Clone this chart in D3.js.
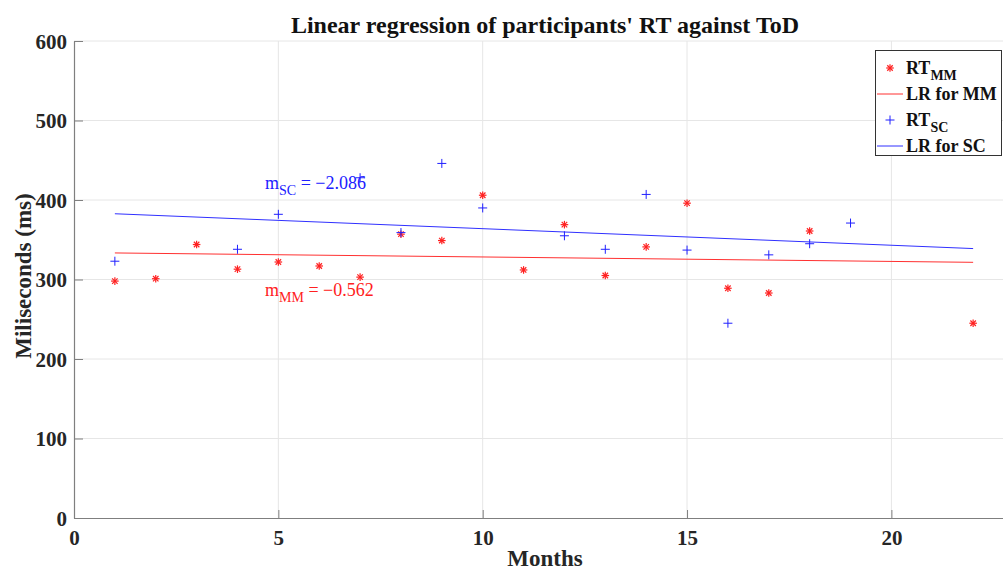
<!DOCTYPE html>
<html><head><meta charset="utf-8">
<script src="https://cdn.jsdelivr.net/npm/d3@7"></script>
<style>
body{margin:0;background:#fff;}
svg{display:block;font-family:"Liberation Serif","Times New Roman",serif;}
</style></head>
<body>
<svg id="c" width="1003" height="571"></svg>
<script>
const monthsMM = [1,2,3,4,5,6,7,8,9,10,11,12,13,14,15,16,17,18,22];
const rtMM =     [298,301,344,313,322,317,303,357,349,406,312,369,305,341,396,289,283,361,245];
const monthsSC = [1,4,5,7,8,9,10,12,13,14,15,16,17,18,19];
const rtSC =     [323,338,382,428,359,446,390,355,338,407,337,245,331,345,371];
const lrMM = [[1,333.4],[22,321.6]];
const lrSC = [[1,382.7],[22,338.9]];
const slopeMM = "−0.562";
const slopeSC = "−2.086";
const xTicks = [0,5,10,15,20];
const yTicks = [0,100,200,300,400,500,600];

const svg = d3.select("#c");
const x = d3.scaleLinear().domain([0,23]).range([74,1014]);
const y = d3.scaleLinear().domain([0,600]).range([518,41]);

// grid
svg.append("g").selectAll("line").data(xTicks.slice(1)).join("line")
  .attr("x1",d=>x(d)).attr("x2",d=>x(d)).attr("y1",41).attr("y2",518)
  .attr("stroke","#e6e6e6").attr("stroke-width",1);
svg.append("g").selectAll("line").data(yTicks.slice(1)).join("line")
  .attr("x1",74).attr("x2",1003).attr("y1",d=>y(d)).attr("y2",d=>y(d))
  .attr("stroke","#e6e6e6").attr("stroke-width",1);

// axes
const xAxis = d3.axisBottom(x).tickValues(xTicks).tickSizeInner(-8).tickSizeOuter(0).tickPadding(12);
const yAxis = d3.axisLeft(y).tickValues(yTicks).tickSizeInner(-9).tickSizeOuter(0).tickPadding(7);
const gx = svg.append("g").attr("transform","translate(0,518)").call(xAxis);
const gy = svg.append("g").attr("transform","translate(74,0)").call(yAxis);
[gx,gy].forEach(g=>{
  g.select(".domain").attr("stroke","#7f7f7f").attr("stroke-width",1.2);
  g.selectAll(".tick line").attr("stroke","#7f7f7f");
  g.selectAll("text").attr("fill","#262626").attr("font-family","Liberation Serif")
    .attr("font-weight","bold").attr("font-size",21);
});
gy.selectAll("text").attr("dy","0.35em");

// regression lines
const line = d3.line().x(d=>x(d[0])).y(d=>y(d[1]));
svg.append("path").attr("d",line(lrMM)).attr("stroke","#ff3030").attr("fill","none").attr("stroke-width",1);
svg.append("path").attr("d",line(lrSC)).attr("stroke","#3030ff").attr("fill","none").attr("stroke-width",1);

// markers
function star(g, cx, cy, col){
  const r=3.8;
  const s = g.append("g").attr("stroke",col).attr("stroke-width",1.2);
  s.append("line").attr("x1",cx-r).attr("x2",cx+r).attr("y1",cy).attr("y2",cy);
  s.append("line").attr("x1",cx).attr("x2",cx).attr("y1",cy-r).attr("y2",cy+r);
  const q=r*0.72;
  s.append("line").attr("x1",cx-q).attr("x2",cx+q).attr("y1",cy-q).attr("y2",cy+q);
  s.append("line").attr("x1",cx-q).attr("x2",cx+q).attr("y1",cy+q).attr("y2",cy-q);
}
function plus(g, cx, cy, col){
  const r=4.5;
  const s = g.append("g").attr("stroke",col).attr("stroke-width",1);
  s.append("line").attr("x1",cx-r).attr("x2",cx+r).attr("y1",cy).attr("y2",cy);
  s.append("line").attr("x1",cx).attr("x2",cx).attr("y1",cy-r).attr("y2",cy+r);
}
const gm = svg.append("g");
monthsMM.forEach((m,i)=>star(gm, x(m), y(rtMM[i]), "#ff2020"));
monthsSC.forEach((m,i)=>plus(gm, x(m), y(rtSC[i]), "#2020ff"));

// annotations
function ann(xp, yp, sub, val, col){
  const t = svg.append("text").attr("x",xp).attr("y",yp).attr("fill",col)
    .attr("font-size",18);
  t.append("tspan").text("m");
  t.append("tspan").text(sub).attr("font-size",14).attr("dy",6);
  t.append("tspan").text(" = " + val).attr("dy",-6);
}
ann(265, 189, "SC", slopeSC, "#2020ff");
ann(265, 296, "MM", slopeMM, "#ff2020");

// title and labels
svg.append("text").attr("x",545).attr("y",33).attr("text-anchor","middle")
  .attr("font-weight","bold").attr("font-size",24).attr("fill","#111")
  .text("Linear regression of participants' RT against ToD");
svg.append("text").attr("x",545).attr("y",566).attr("text-anchor","middle")
  .attr("font-weight","bold").attr("font-size",23).attr("fill","#262626").text("Months");
svg.append("text").attr("transform","translate(31,276) rotate(-90)").attr("text-anchor","middle")
  .attr("font-weight","bold").attr("font-size",23).attr("fill","#262626").text("Miliseconds (ms)");

// legend
const lg = svg.append("g");
lg.append("rect").attr("x",875.5).attr("y",50.5).attr("width",126).attr("height",105)
  .attr("fill","#fff").attr("stroke","#333").attr("stroke-width",1);
const entries = [
  {type:"star", col:"#ff2020", main:"RT", sub:"MM", y:68},
  {type:"line", col:"#ff3030", main:"LR for MM", y:94},
  {type:"plus", col:"#2020ff", main:"RT", sub:"SC", y:120},
  {type:"line", col:"#3030ff", main:"LR for SC", y:146}
];
entries.forEach(e=>{
  if(e.type==="star") star(lg, 890, e.y, e.col);
  else if(e.type==="plus") plus(lg, 890, e.y, e.col);
  else lg.append("line").attr("x1",877).attr("x2",903).attr("y1",e.y).attr("y2",e.y).attr("stroke",e.col);
  const t = lg.append("text").attr("x",906).attr("y",e.y+6).attr("font-weight","bold")
    .attr("font-size",18).attr("fill","#111");
  t.append("tspan").text(e.main);
  if(e.sub) t.append("tspan").text(e.sub).attr("font-size",14).attr("dy",6);
});
</script>
</body></html>
